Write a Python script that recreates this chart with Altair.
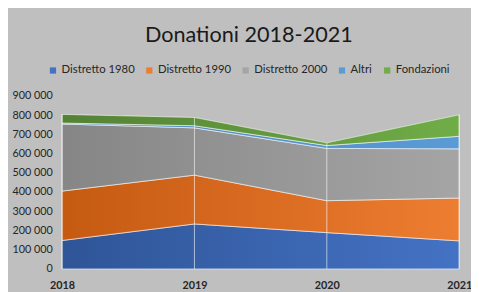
import altair as alt
import pandas as pd

years = [2018, 2019, 2020, 2021]
series = ["Distretto 1980", "Distretto 1990", "Distretto 2000", "Altri", "Fondazioni"]
d1980 = [148000, 234000, 189000, 146000]
d1990 = [257000, 254000, 166000, 223000]
d2000 = [349000, 246000, 272000, 256000]
altri = [5000, 11000, 15000, 65000]
fondazioni = [45000, 43000, 14000, 112000]
y_ticks = [0, 100000, 200000, 300000, 400000, 500000, 600000, 700000, 800000, 900000]

solid = ["#4472C4", "#ED7D31", "#A5A5A5", "#5B9BD5", "#70AD47"]
dark = ["#2F5597", "#C55A11", "#868686", "#4A86C0", "#548235"]

rows = []
for i, (name, vals) in enumerate(zip(series, [d1980, d1990, d2000, altri, fondazioni])):
    for yr, v in zip(years, vals):
        rows.append({"Anno": str(yr), "Serie": name, "idx": i, "Valore": v})
df = pd.DataFrame(rows)

base = alt.Chart(df).transform_stack(
    stack="Valore", groupby=["Anno"], as_=["v0", "v1"],
    sort=[alt.SortField("idx", order="ascending")],
)

x_axis = alt.Axis(labelAngle=0, labelFontWeight="bold", labelFontSize=11,
                  labelFont="Lato", labelColor="#262626", labelPadding=11,
                  ticks=False, domain=False, grid=False)
y_axis = alt.Axis(values=y_ticks, labelFontSize=11, labelFont="Lato",
                  labelColor="#262626", labelPadding=10, ticks=False,
                  domain=False, grid=False, labelOverlap=False,
                  labelExpr="replace(format(datum.value, ','), ',', ' ')")
x_scale = alt.Scale(type="point", padding=0)
y_scale = alt.Scale(domain=[0, 900000])


def xe():
    return alt.X("Anno:O", scale=x_scale, title=None, axis=x_axis)


def ye(field):
    return alt.Y(field, scale=y_scale, title=None, axis=y_axis)


legend_layer = base.mark_area(strokeWidth=0).encode(
    x=xe(), y=ye("v1:Q"), y2="v0:Q",
    color=alt.Color("Serie:N", scale=alt.Scale(domain=series, range=solid),
                    legend=alt.Legend(title=None, orient="none", direction="horizontal",
                                      legendX=-15, legendY=-32, symbolType="square",
                                      symbolSize=40, symbolStrokeWidth=0,
                                      labelFont="Lato", labelFontSize=11.5,
                                      labelColor="#262626", columnPadding=9,
                                      labelOffset=3)),
    order=alt.Order("idx:Q"),
)

layers = [legend_layer]
for i, name in enumerate(series):
    grad = alt.Gradient(gradient="linear",
                        stops=[alt.GradientStop(color=dark[i], offset=0),
                               alt.GradientStop(color=solid[i], offset=1)],
                        x1=0, x2=1, y1=0, y2=0)
    layers.append(
        base.transform_filter(alt.datum.Serie == name).mark_area(
            color=grad, stroke="#FFFFFF", strokeWidth=1, strokeOpacity=0.6
        ).encode(x=xe(), y=ye("v1:Q"), y2="v0:Q")
    )

rules = alt.Chart(df).transform_aggregate(
    tot="sum(Valore)", groupby=["Anno"]
).transform_calculate(zero="0").mark_rule(
    color="#FFFFFF", strokeWidth=1, opacity=0.6
).encode(x=xe(), y=ye("tot:Q"), y2=alt.Y2("zero:Q"))
layers.append(rules)

chart = alt.layer(*layers).properties(
    width=404, height=176,
    autosize=alt.AutoSizeParams(type="none"),
    padding={"left": 55, "top": 87, "right": 12, "bottom": 21},
    background="#BFBFBF",
    title=alt.TitleParams("Donationi 2018-2021", fontSize=22, font="Lato",
                          fontWeight="normal", color="#1A1A1A", anchor="middle",
                          dx=-12, dy=-14),
).configure_view(stroke=None).configure_axisY(labelOverlap=False)

chart.save("out.html", embed_options={"renderer": "svg", "actions": False})
